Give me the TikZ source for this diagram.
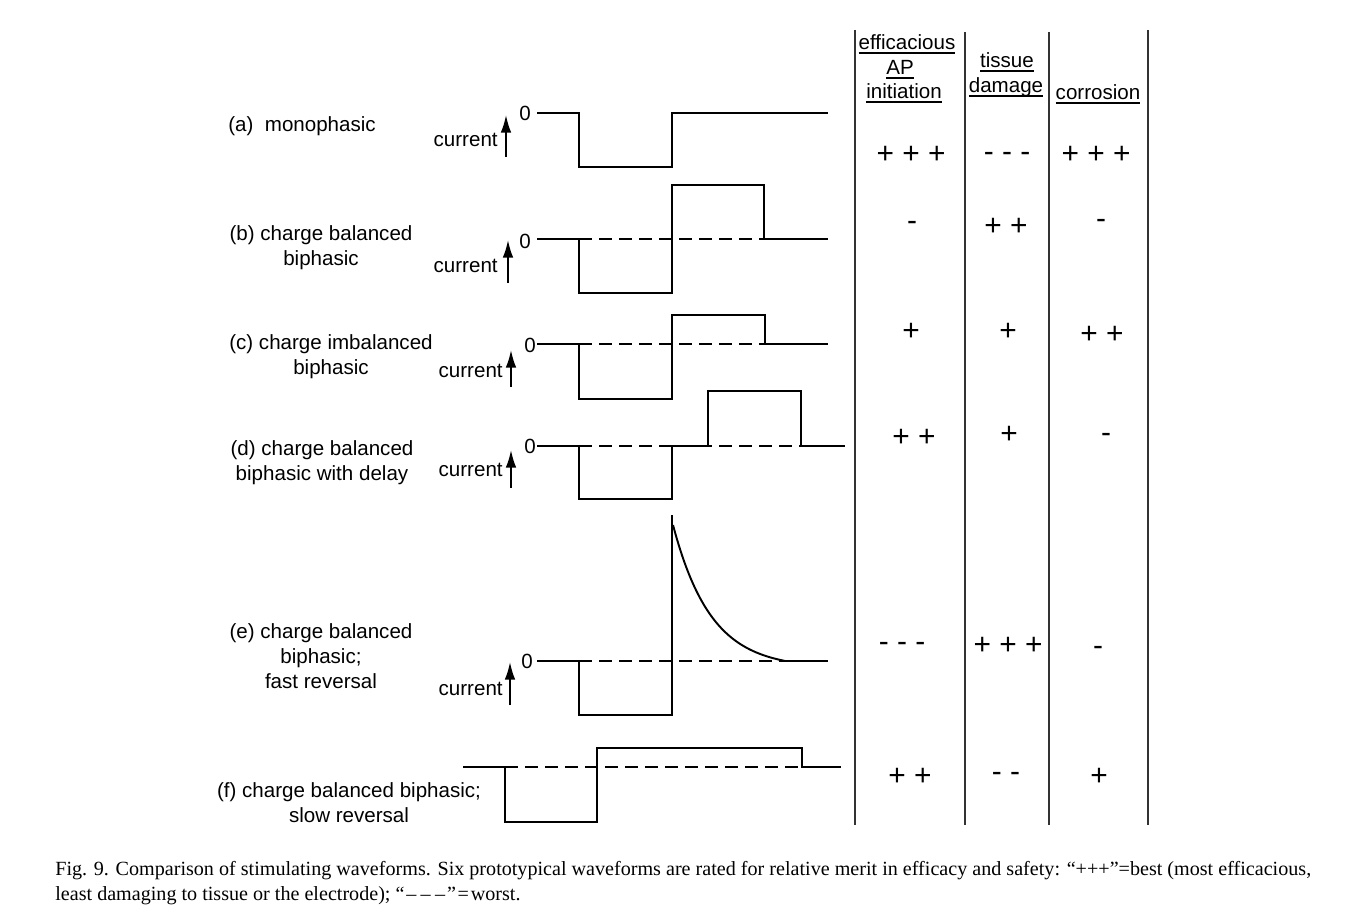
\documentclass[tikz,border=0pt]{standalone}
\usepackage{fontspec}
\setmainfont{Liberation Serif}
\setsansfont{Liberation Sans}
\usetikzlibrary{arrows.meta}

\newcommand{\hdrline}[1]{\setbox0=\hbox{#1}\rlap{\rule[-2.2pt]{\wd0}{0.8pt}}\box0}

\begin{document}
\begin{tikzpicture}[x=0.02cm,y=-0.02cm,
    wave/.style={line width=1.1pt},
    zeroline/.style={line width=1.1pt,dash pattern=on 7.4pt off 4pt},
    divider/.style={line width=1.5pt,draw=black!80},
    uparrow/.style={-{Latex[length=10pt,width=6pt]},line width=1pt},
    sans/.style={font=\sffamily\fontsize{11.7}{14.2}\selectfont,inner sep=0pt},
    wavename/.style={sans,align=center},
    curlab/.style={sans,anchor=base east},
    zerolab/.style={sans},
    hdr/.style={sans,anchor=base},
    rating/.style={font=\sffamily\fontsize{17}{20}\selectfont,inner sep=0pt,anchor=base}]

    \useasboundingbox (0,0) rectangle (1360,919);

    % Draw table dividers
    \draw[divider] (855,30) -- (855,825);
    \draw[divider] (965,32) -- (965,825);
    \draw[divider] (1049,32) -- (1049,825);
    \draw[divider] (1148,30) -- (1148,825);

    % Column heads
    \node[hdr] (hEff1) at (907,50) {\hdrline{efficacious}};
    \node[hdr] (hEff2) at (900,75) {\hdrline{AP}};
    \node[hdr] (hEff3) at (904,99) {\hdrline{initiation}};
    \node[hdr] (hTis1) at (1007,68) {\hdrline{tissue}};
    \node[hdr] (hTis2) at (1006,93) {\hdrline{damage}};
    \node[hdr] (hCor) at (1098,100) {\hdrline{corrosion}};

    % Waveform names
    \node[wavename,anchor=west] (na) at (228,126) {(a)~~monophasic};
    \node[wavename] (nb) at (321,248) {(b) charge balanced\\biphasic};
    \node[wavename] (nc) at (331,357) {(c) charge imbalanced\\biphasic};
    \node[wavename] (nd) at (322,463) {(d) charge balanced\\biphasic with delay};
    \node[wavename] (ne) at (321,656) {(e) charge balanced\\biphasic;\\fast reversal};
    \node[wavename] (nf) at (349,803) {(f) charge balanced biphasic;\\slow reversal};

    % Current axes
    \node[curlab] (ca) at (498,147) {current};
    \node[curlab] (cb) at (498,272) {current};
    \node[curlab] (cc) at (503,377) {current};
    \node[curlab] (cd) at (503,476) {current};
    \node[curlab] (ce) at (503,695) {current};
    \node[zerolab] (za) at (525,113) {0};
    \node[zerolab] (zb) at (525,241) {0};
    \node[zerolab] (zc) at (530,345) {0};
    \node[zerolab] (zd) at (530,446) {0};
    \node[zerolab] (ze) at (527,661) {0};
    \coordinate (aBot) at (506,157); \coordinate (aTop) at (506,115);
    \coordinate (bBot) at (508,283); \coordinate (bTop) at (508,240);
    \coordinate (cBot) at (511,387); \coordinate (cTop) at (511,350);
    \coordinate (dBot) at (511,488); \coordinate (dTop) at (511,450);
    \coordinate (eBot) at (510,705); \coordinate (eTop) at (510,662);
    \draw[uparrow] (aBot) -- (aTop);
    \draw[uparrow] (bBot) -- (bTop);
    \draw[uparrow] (cBot) -- (cTop);
    \draw[uparrow] (dBot) -- (dTop);
    \draw[uparrow] (eBot) -- (eTop);

    % Draw waveforms
    \draw[wave] (537,113) -| (579,167) -| (672,113) -- (828,113);
    \draw[zeroline] (579,239) -- (764,239);
    \draw[wave] (537,239) -| (579,293) -| (672,185) -| (764,239) -- (828,239);
    \draw[zeroline] (579,344) -- (765,344);
    \draw[wave] (537,344) -| (579,399) -| (672,315) -| (765,344) -- (828,344);
    \draw[zeroline] (579,446) -- (801,446);
    \draw[wave] (537,446) -| (579,499) -| (672,446) -- (708,446) |- (801,391) |- (845,446);
    \draw[zeroline] (579,661) -- (783,661);
    \draw[wave] (537,661) -| (579,715) -| (672,515);
    \draw[wave,samples=60,domain=0:112] plot ({673+\x},{661-136*(exp(-\x/38)-0.052)/0.948});
    \draw[wave] (783,661) -- (828,661);
    \draw[zeroline] (505,767) -- (802,767);
    \draw[wave] (463,767) -| (505,822) -| (597,748) -| (802,767) -- (841,767);

    % Ratings
    \node[rating] (effa) at (911,164) {+ + +};
    \node[rating] (tisa) at (1007,162) {- - -};
    \node[rating] (cora) at (1096,164) {+ + +};
    \node[rating] (effb) at (912,231) {-};
    \node[rating] (tisb) at (1006,235.5) {+ +};
    \node[rating] (corb) at (1101,229) {-};
    \node[rating] (effc) at (911,340.5) {+};
    \node[rating] (tisc) at (1008,340.5) {+};
    \node[rating] (corc) at (1102,343.5) {+ +};
    \node[rating] (effd) at (914,446.5) {+ +};
    \node[rating] (tisd) at (1009,443.5) {+};
    \node[rating] (cord) at (1106,442) {-};
    \node[rating] (effe) at (902,651) {- - -};
    \node[rating] (tise) at (1008,654.5) {+ + +};
    \node[rating] (core) at (1098,655) {-};
    \node[rating] (efff) at (910,785.5) {+ +};
    \node[rating] (tisf) at (1006,781) {- -};
    \node[rating] (corf) at (1099,785.5) {+};

    % Caption
    \node[anchor=base west,inner sep=0pt,font=\fontsize{11.45}{13.7}\selectfont] (cap1) at (55,875)
        {Fig. 9. Comparison of stimulating waveforms. Six prototypical waveforms are rated for relative merit in efficacy and safety: “+++”=best (most efficacious,};
    \node[anchor=base west,inner sep=0pt,font=\fontsize{11.45}{13.7}\selectfont] (cap2) at (55,900)
        {least damaging to tissue or the electrode); “\kern1pt–\kern2.5pt–\kern2.5pt–\kern1pt”\kern1pt=\kern1pt worst.};
\end{tikzpicture}
\end{document}
